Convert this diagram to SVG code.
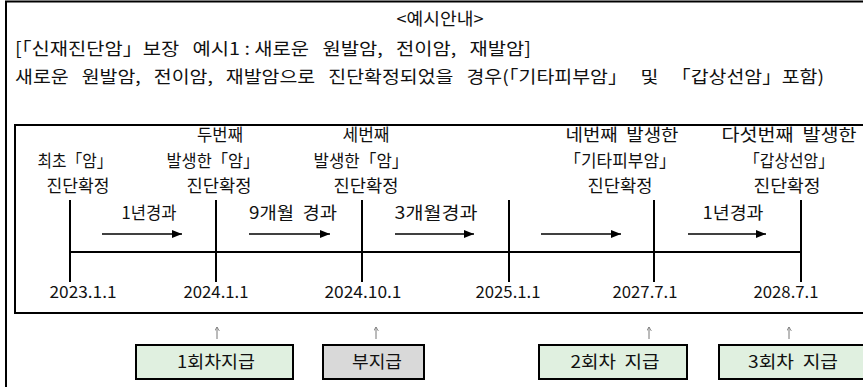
<svg xmlns="http://www.w3.org/2000/svg" width="863" height="387" viewBox="0 0 863 387">
<style>
text{font-family:"Noto Sans CJK KR","Noto Sans",sans-serif;font-size:17px;fill:#111;white-space:pre}
.c{text-anchor:middle}
.d{font-size:16px}
.frame{fill:none;stroke:#000;stroke-width:2}
.tick{stroke:#000;stroke-width:2}
.flow{stroke:#000;stroke-width:1.3;fill:none}
.up{stroke:#777;stroke-width:1;fill:none}
.pay{fill:#e0f0e0;stroke:#000;stroke-width:2}
.nopay{fill:#d9d9d9;stroke:#000;stroke-width:2}
</style>
<defs>
<marker id="ah" viewBox="0 0 10 8" refX="10" refY="4" markerWidth="10" markerHeight="8" markerUnits="userSpaceOnUse" orient="auto">
<path d="M0,0 L10,4 L0,8 Z" fill="#000"/>
</marker>
<marker id="uh" viewBox="0 0 6 5" refX="3" refY="0" markerWidth="5" markerHeight="4" markerUnits="userSpaceOnUse" orient="0">
<path d="M0,5 L3,0 L6,5" fill="none" stroke="#777" stroke-width="1"/>
</marker>
</defs>
<rect class="frame" x="6" y="1.5" width="880" height="400"/>
<g id="header">
<text class="c" x="440" y="25" textLength="87" lengthAdjust="spacingAndGlyphs">&lt;예시안내&gt;</text>
<text x="15" y="55" textLength="516" lengthAdjust="spacingAndGlyphs">[「신재진단암」보장   예시1 : 새로운   원발암,   전이암,   재발암]</text>
<text x="15" y="83" textLength="809" lengthAdjust="spacingAndGlyphs">새로운   원발암,   전이암,   재발암으로   진단확정되었을   경우(「기타피부암」   및   「갑상선암」포함)</text>
</g>
<rect class="frame" x="15" y="125" width="870" height="188"/>
<g id="timeline">
<line class="tick" x1="70" y1="252" x2="801" y2="252"/>
<line class="tick" x1="70" y1="200" x2="70" y2="282" stroke-width="3"/>
<line class="tick" x1="216" y1="200" x2="216" y2="282"/>
<line class="tick" x1="362" y1="200" x2="362" y2="282"/>
<line class="tick" x1="509" y1="200" x2="509" y2="282"/>
<line class="tick" x1="654" y1="200" x2="654" y2="282" stroke-width="3"/>
<line class="tick" x1="801" y1="200" x2="801" y2="282"/>
</g>
<g id="event1">
<text class="c" x="75" y="167" textLength="75" lengthAdjust="spacingAndGlyphs">최초「암」</text>
<text class="c" x="78" y="192" textLength="63" lengthAdjust="spacingAndGlyphs">진단확정</text>
<text class="c d" x="83" y="298" textLength="67" lengthAdjust="spacingAndGlyphs">2023.1.1</text>
</g>
<g id="event2">
<text class="c" x="220" y="141" textLength="46" lengthAdjust="spacingAndGlyphs">두번째</text>
<text class="c" x="213" y="167" textLength="93" lengthAdjust="spacingAndGlyphs">발생한「암」</text>
<text class="c" x="219" y="192" textLength="65" lengthAdjust="spacingAndGlyphs">진단확정</text>
<text class="c d" x="216" y="298" textLength="65" lengthAdjust="spacingAndGlyphs">2024.1.1</text>
</g>
<g id="event3">
<text class="c" x="366" y="141" textLength="47" lengthAdjust="spacingAndGlyphs">세번째</text>
<text class="c" x="361" y="167" textLength="95" lengthAdjust="spacingAndGlyphs">발생한「암」</text>
<text class="c" x="366" y="192" textLength="65" lengthAdjust="spacingAndGlyphs">진단확정</text>
<text class="c d" x="363" y="298" textLength="77" lengthAdjust="spacingAndGlyphs">2024.10.1</text>
</g>
<g id="event4">
<text class="c d" x="508" y="298" textLength="65" lengthAdjust="spacingAndGlyphs">2025.1.1</text>
</g>
<g id="event5">
<text class="c" x="622" y="141" textLength="113" lengthAdjust="spacingAndGlyphs">네번째  발생한</text>
<text class="c" x="620" y="167" textLength="112" lengthAdjust="spacingAndGlyphs">「기타피부암」</text>
<text class="c" x="620" y="192" textLength="65" lengthAdjust="spacingAndGlyphs">진단확정</text>
<text class="c d" x="645" y="298" textLength="65" lengthAdjust="spacingAndGlyphs">2027.7.1</text>
</g>
<g id="event6">
<text class="c" x="789" y="141" textLength="135" lengthAdjust="spacingAndGlyphs">다섯번째  발생한</text>
<text class="c" x="789" y="167" textLength="90" lengthAdjust="spacingAndGlyphs">「갑상선암」</text>
<text class="c" x="787" y="192" textLength="67" lengthAdjust="spacingAndGlyphs">진단확정</text>
<text class="c d" x="786" y="298" textLength="65" lengthAdjust="spacingAndGlyphs">2028.7.1</text>
</g>
<g id="periods">
<text class="c" x="149" y="219" textLength="55" lengthAdjust="spacingAndGlyphs">1년경과</text>
<text class="c" x="293" y="219" textLength="88" lengthAdjust="spacingAndGlyphs">9개월  경과</text>
<text class="c" x="436" y="219" textLength="83" lengthAdjust="spacingAndGlyphs">3개월경과</text>
<text class="c" x="733" y="219" textLength="61" lengthAdjust="spacingAndGlyphs">1년경과</text>
</g>
<g id="connectors">
<line class="flow" x1="102" y1="234" x2="182" y2="234" marker-end="url(#ah)"/>
<line class="flow" x1="249" y1="234" x2="330" y2="234" marker-end="url(#ah)"/>
<line class="flow" x1="395" y1="234" x2="474" y2="234" marker-end="url(#ah)"/>
<line class="flow" x1="541" y1="234" x2="621" y2="234" marker-end="url(#ah)"/>
<line class="flow" x1="688" y1="234" x2="766" y2="234" marker-end="url(#ah)"/>
<line class="up" x1="217" y1="339" x2="217" y2="327" marker-end="url(#uh)"/>
<line class="up" x1="376" y1="339" x2="376" y2="327" marker-end="url(#uh)"/>
<line class="up" x1="649" y1="339" x2="649" y2="327" marker-end="url(#uh)"/>
<line class="up" x1="789" y1="339" x2="789" y2="327" marker-end="url(#uh)"/>
</g>
<g id="pay1">
<rect class="pay" x="136" y="345" width="157" height="34"/>
<text class="c" x="216" y="368" textLength="78" lengthAdjust="spacingAndGlyphs">1회차지급</text>
</g>
<g id="pay-none">
<rect class="nopay" x="323" y="345" width="101" height="34"/>
<text class="c" x="377" y="368" textLength="50" lengthAdjust="spacingAndGlyphs">부지급</text>
</g>
<g id="pay2">
<rect class="pay" x="539" y="345" width="148" height="34"/>
<text class="c" x="615" y="368" textLength="89" lengthAdjust="spacingAndGlyphs">2회차  지급</text>
</g>
<g id="pay3">
<rect class="pay" x="719" y="345" width="160" height="34"/>
<text class="c" x="793" y="368" textLength="90" lengthAdjust="spacingAndGlyphs">3회차  지급</text>
</g>
</svg>
